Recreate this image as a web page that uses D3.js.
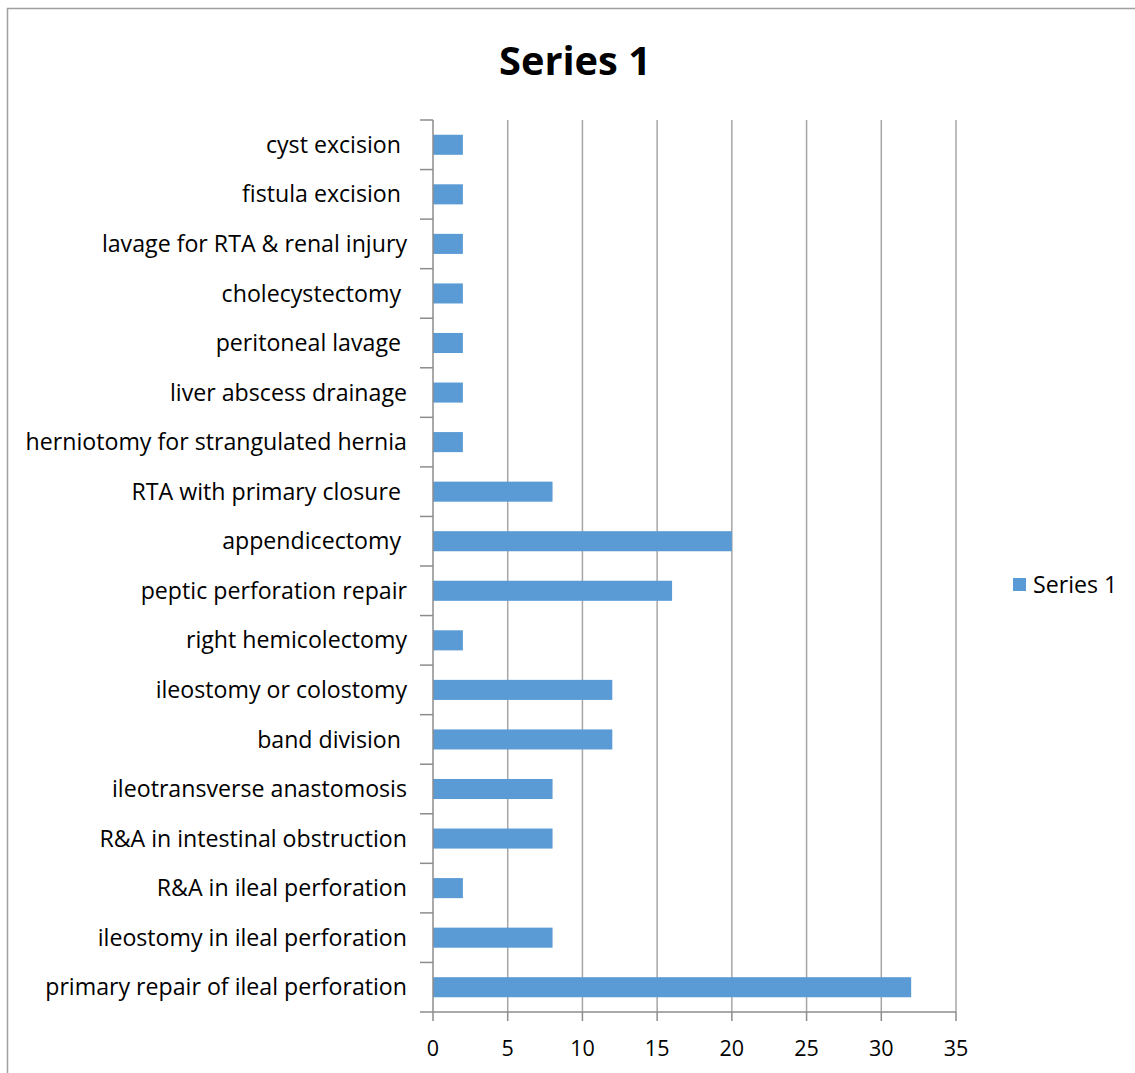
<!DOCTYPE html>
<html>
<head>
<meta charset="utf-8">
<script src="https://cdn.jsdelivr.net/npm/d3@7"></script>
<style>
  html, body { margin: 0; padding: 0; background: #fff; }
  svg { display: block; }
  text { font-family: "Open Sans", "Liberation Sans", sans-serif; fill: #000; white-space: pre; }
</style>
</head>
<body>
<svg id="chart" width="1135" height="1073"></svg>
<script>
// Procedures, listed from the bottom of the axis to the top
const categories = [
  "primary repair of ileal perforation",
  "ileostomy in ileal perforation",
  "R&A in ileal perforation",
  "R&A in intestinal obstruction",
  "ileotransverse anastomosis",
  "band division ",
  "ileostomy or colostomy",
  "right hemicolectomy",
  "peptic perforation repair",
  "appendicectomy ",
  "RTA with primary closure ",
  "herniotomy for strangulated hernia",
  "liver abscess drainage",
  "peritoneal lavage ",
  "cholecystectomy ",
  "lavage for RTA & renal injury",
  "fistula excision ",
  "cyst excision "
];
const seriesName = "Series 1";
const seriesValues = [32, 8, 2, 8, 8, 12, 12, 2, 16, 20, 8, 2, 2, 2, 2, 2, 2, 2];
const xTicks = [0, 5, 10, 15, 20, 25, 30, 35];

const svg = d3.select("#chart");
const plot = { left: 433, right: 956, top: 120, bottom: 1012 };
const barColor = "#5B9BD5";
const gridColor = "#A6A6A6";
const axisColor = "#8C8C8C";

// Outer chart frame (runs off the right and bottom edges)
svg.append("rect")
  .attr("x", 7.5).attr("y", 8.5)
  .attr("width", 1300).attr("height", 1300)
  .attr("fill", "#fff").attr("stroke", "#A0A0A0").attr("stroke-width", 1.5);

const x = d3.scaleLinear().domain([0, 35]).range([plot.left, plot.right]);
const yOrder = categories.slice().reverse();
const y = d3.scaleBand().domain(yOrder).range([plot.top, plot.bottom])
  .paddingInner(0.595).paddingOuter(0.2975);
const step = y.step();

// Vertical gridlines
svg.append("g").selectAll("line")
  .data(xTicks.filter(t => t > 0))
  .join("line")
  .attr("x1", d => x(d)).attr("x2", d => x(d))
  .attr("y1", plot.top).attr("y2", plot.bottom)
  .attr("stroke", gridColor).attr("stroke-width", 1.5);

// Bars
svg.append("g").selectAll("rect")
  .data(categories.map((c, i) => ({ c, v: seriesValues[i] })))
  .join("rect")
  .attr("x", x(0))
  .attr("y", d => y(d.c))
  .attr("width", d => x(d.v) - x(0))
  .attr("height", y.bandwidth())
  .attr("fill", barColor);

// Category axis: line, boundary ticks and labels
const yAxis = svg.append("g");
yAxis.append("line")
  .attr("x1", plot.left).attr("x2", plot.left)
  .attr("y1", plot.top).attr("y2", plot.bottom)
  .attr("stroke", axisColor).attr("stroke-width", 1.5);
yAxis.selectAll("line.tick")
  .data(d3.range(categories.length + 1))
  .join("line").attr("class", "tick")
  .attr("x1", plot.left - 13).attr("x2", plot.left)
  .attr("y1", i => plot.top + i * step).attr("y2", i => plot.top + i * step)
  .attr("stroke", axisColor).attr("stroke-width", 1.5);

const labelSize = 21.5;
const labels = yAxis.selectAll("text")
  .data(yOrder)
  .join("text")
  .attr("x", 407)
  .attr("y", d => y(d) + y.bandwidth() / 2)
  .attr("dy", "0.35em")
  .attr("text-anchor", "end")
  .attr("font-size", labelSize)
  .text(d => d);

// Fit label width to the axis label column
const longest = labels.filter(d => d === "primary repair of ileal perforation").node();
const w = longest.getComputedTextLength();
const labelScale = 362 / w;
labels.attr("font-size", labelSize * labelScale);

// Value axis: line, ticks and labels
const xAxis = svg.append("g");
xAxis.append("line")
  .attr("x1", plot.left).attr("x2", plot.right)
  .attr("y1", plot.bottom).attr("y2", plot.bottom)
  .attr("stroke", axisColor).attr("stroke-width", 1.5);
xAxis.selectAll("line.tick")
  .data(xTicks)
  .join("line").attr("class", "tick")
  .attr("x1", d => x(d)).attr("x2", d => x(d))
  .attr("y1", plot.bottom).attr("y2", plot.bottom + 9)
  .attr("stroke", axisColor).attr("stroke-width", 1.5);
xAxis.selectAll("text")
  .data(xTicks)
  .join("text")
  .attr("x", d => x(d))
  .attr("y", 1056)
  .attr("text-anchor", "middle")
  .attr("font-size", 21.5)
  .text(d => d);

// Title
const title = svg.append("text")
  .attr("x", 575).attr("y", 75)
  .attr("text-anchor", "middle")
  .attr("font-weight", "bold")
  .attr("font-size", 40)
  .text(seriesName);
const tw = title.node().getComputedTextLength();
title.attr("font-size", 40 * 152 / tw);

// Legend
const legend = svg.append("g");
legend.append("rect")
  .attr("x", 1013).attr("y", 578)
  .attr("width", 13).attr("height", 13)
  .attr("fill", barColor);
legend.append("text")
  .attr("x", 1033).attr("y", 585)
  .attr("dy", "0.35em")
  .attr("font-size", labelSize * labelScale)
  .text(seriesName);
</script>
</body>
</html>
